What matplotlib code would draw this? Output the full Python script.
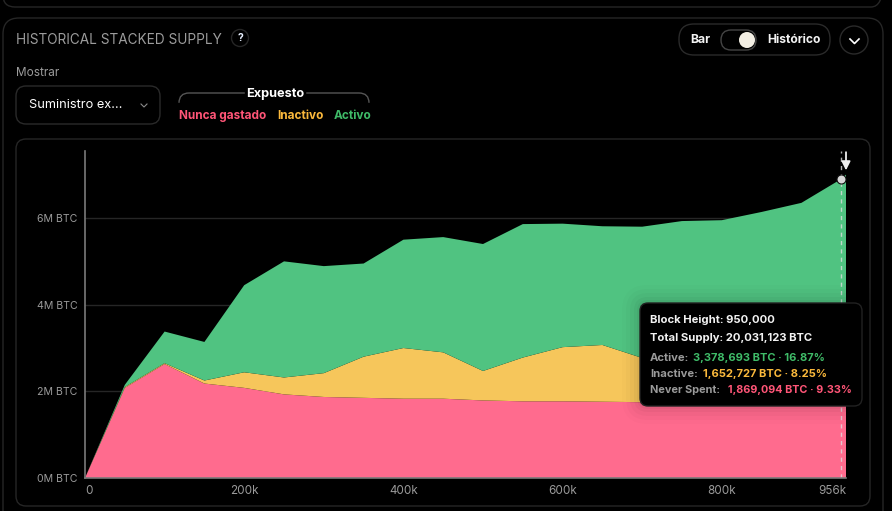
#!/usr/bin/env python
# -*- coding: utf-8 -*-

from matplotlib import pyplot as plt
from matplotlib.patches import FancyBboxPatch, Circle

plt.rcParams["font.family"] = ["Inter", "DejaVu Sans"]

W, H = 892, 511

# values, in millions of BTC
blocks = [0, 50, 100, 150, 200, 250, 300, 350, 400, 450, 500, 550, 600, 650, 700, 750, 800, 850, 900, 950, 956]
never_spent = [0, 2.08, 2.63, 2.18, 2.08, 1.93, 1.87, 1.85, 1.83, 1.83, 1.79, 1.77, 1.77, 1.76, 1.75, 1.76, 1.77, 1.80, 1.84, 1.87, 1.87]
inactive = [0, 0.02, 0.02, 0.07, 0.36, 0.39, 0.55, 0.95, 1.17, 1.07, 0.68, 1.01, 1.25, 1.31, 1.02, 1.10, 1.30, 1.50, 1.60, 1.65, 1.67]
active = [0, 0.05, 0.73, 0.89, 2.01, 2.68, 2.47, 2.15, 2.50, 2.66, 2.93, 3.08, 2.85, 2.74, 3.03, 3.07, 2.88, 2.84, 2.91, 3.38, 3.46]

y_ticks = [0, 2, 4, 6]
y_labels = ["0M BTC", "2M BTC", "4M BTC", "6M BTC"]
x_ticks = [0, 200, 400, 600, 800, 956]
x_labels = ["0", "200k", "400k", "600k", "800k", "956k"]
hover_block = 950
hover_total = 6.90

PINK = "#ff6b8e"
YELLOW = "#f6c65b"
GREEN = "#50c381"
TXT_PINK = "#ff5577"
TXT_YELLOW = "#fbb93c"
TXT_GREEN = "#3fbb68"
GREY = "#9a9a9a"
LINE = "#262626"


def caja(ax, x0, y0, x1, y1, r, edge=LINE, face="none", lw=1.0, z=1, alpha=None):
	"""Rectangulo redondeado en coordenadas de pixel"""
	p = FancyBboxPatch((x0 + r, y0 + r), x1 - x0 - 2 * r, y1 - y0 - 2 * r,
					   boxstyle="round,pad=%f,rounding_size=%f" % (r, r),
					   edgecolor=edge, facecolor=face, linewidth=lw, zorder=z, alpha=alpha)
	ax.add_patch(p)


def texto(ax, x, y, s, color="white", size=9, weight="normal", ha="left", z=5):
	ax.text(x, y, s, color=color, fontsize=size, fontweight=weight, ha=ha, va="center", zorder=z)


fig = plt.figure(figsize=(W / 100, H / 100), dpi=100, facecolor="black")

# fondo con las tarjetas y controles
fondo = fig.add_axes([0, 0, 1, 1], zorder=0)
fondo.set_xlim(0, W)
fondo.set_ylim(H, 0)
fondo.axis("off")

caja(fondo, 3, -30, 883, 7, 12)
caja(fondo, 3, 18, 883, 540, 16)
caja(fondo, 16, 139, 870, 506, 10)

texto(fondo, 16, 40, "HISTORICAL STACKED SUPPLY", "#9c9c9c", 9.8)
fondo.add_patch(Circle((240, 38), 8.5, edgecolor=LINE, facecolor="none", linewidth=1))
texto(fondo, 240, 38, "?", "#e8f0ff", 7.5, "bold", ha="center")
texto(fondo, 16, 73, "Mostrar", "#9c9c9c", 8.5)

caja(fondo, 16, 86, 160, 124, 10, edge="#2a2a2a")
texto(fondo, 29, 105, "Suministro ex…", "white", 9.2)
fondo.plot([141, 144, 147], [104, 107, 104], color="#8a8a8a", lw=0.8)

# llave de la leyenda
caja(fondo, 179, 93, 369, 125, 10, edge="#555555")
fondo.fill_between([245, 305], 90, 98, color="black", zorder=2)
fondo.fill_between([175, 375], 103, 128, color="black", zorder=2)
texto(fondo, 275, 94, "Expuesto", "white", 9.2, "bold", ha="center")
texto(fondo, 179, 116, "Nunca gastado", TXT_PINK, 8.5, "bold")
texto(fondo, 277, 116, "Inactivo", TXT_YELLOW, 8.5, "bold")
texto(fondo, 334, 116, "Activo", TXT_GREEN, 8.5, "bold")

# interruptor Bar / Historico
caja(fondo, 679, 24, 830, 55, 15, edge="#2a2a2a")
texto(fondo, 690, 40, "Bar", "#f2f2f2", 8.8, "bold")
caja(fondo, 721, 30, 756, 50, 10, edge="#444444")
fondo.add_patch(Circle((747, 40), 8, facecolor="#f3efe4", edgecolor="none", zorder=3))
texto(fondo, 767, 40, "Histórico", "#f2f2f2", 8.7, "bold")
fondo.add_patch(Circle((854, 40), 14, edgecolor="#2a2a2a", facecolor="none", linewidth=1))
fondo.plot([850, 854.5, 859], [39, 43.5, 39], color="white", lw=1.2)

# grafico
x0, x1, y_top, y_bot = 85, 846, 151, 478
ax = fig.add_axes([x0 / W, 1 - y_bot / H, (x1 - x0) / W, (y_bot - y_top) / H], zorder=1)
ax.patch.set_alpha(0)
ax.stackplot(blocks, never_spent, inactive, active, colors=[PINK, YELLOW, GREEN], linewidth=0, zorder=2)
ax.set_xlim(0, 956)
ax.set_ylim(0, (y_bot - y_top) / 43.33)

for s in ["top", "right"]:
	ax.spines[s].set_visible(False)
for s in ["left", "bottom"]:
	ax.spines[s].set_color("#7a7a7a")
	ax.spines[s].set_linewidth(1.2)
	ax.spines[s].set_zorder(4)

ax.set_yticks(y_ticks)
ax.set_yticklabels(y_labels, color=GREY, fontsize=7.6)
ax.set_xticks(x_ticks)
ax.set_xticklabels(x_labels, color=GREY, fontsize=8.4)
ax.tick_params(axis="both", length=0)
ax.tick_params(axis="y", pad=5.5)
ax.tick_params(axis="x", pad=5)
ax.get_xticklabels()[0].set_ha("left")
ax.get_xticklabels()[-1].set_ha("right")
ax.grid(axis="y", color=LINE, linewidth=1, zorder=1)

ax.axvline(hover_block, color="#dddddd", lw=1, ls=(0, (3, 3)), alpha=0.8, zorder=3)
ax.plot([hover_block], [hover_total], "o", ms=6.5, mfc="#d8d8d8", mec="#111111", mew=0.8, zorder=5, clip_on=False)
ax.annotate("", xy=(956, hover_total + 0.2), xytext=(956, hover_total + 0.62),
			arrowprops=dict(arrowstyle="-|>", color="#eeeeee", lw=1.3, shrinkA=0, shrinkB=0, mutation_scale=13),
			annotation_clip=False, zorder=6)

# tooltip
capa = fig.add_axes([0, 0, 1, 1], zorder=2)
capa.set_xlim(0, W)
capa.set_ylim(H, 0)
capa.axis("off")
capa.patch.set_alpha(0)

for d, a in [(18, 0.012), (14, 0.018), (10, 0.025), (6, 0.03), (3, 0.035)]:
	caja(capa, 640 - d, 303 - d, 862 + d, 406 + d, 8 + d, edge="none", face="black", z=1, alpha=a)
caja(capa, 640, 303, 862, 406, 8, edge="#222222", face="black", z=2)

texto(capa, 650, 320, "Block Height: 950,000", "#f2f2f2", 8.1, "bold")
texto(capa, 650, 338, "Total Supply: 20,031,123 BTC", "#f2f2f2", 8.1, "bold")
texto(capa, 650, 358, "Active:", GREY, 8.1, "bold")
texto(capa, 693, 358, "3,378,693 BTC · 16.87%", TXT_GREEN, 8.0, "bold")
texto(capa, 650, 374, "Inactive:", GREY, 8.1, "bold")
texto(capa, 703, 374, "1,652,727 BTC · 8.25%", TXT_YELLOW, 8.0, "bold")
texto(capa, 650, 390, "Never Spent:", GREY, 7.9, "bold")
texto(capa, 728, 390, "1,869,094 BTC · 9.33%", TXT_PINK, 7.8, "bold")

fig.savefig("out.png", dpi=100, facecolor="black")
